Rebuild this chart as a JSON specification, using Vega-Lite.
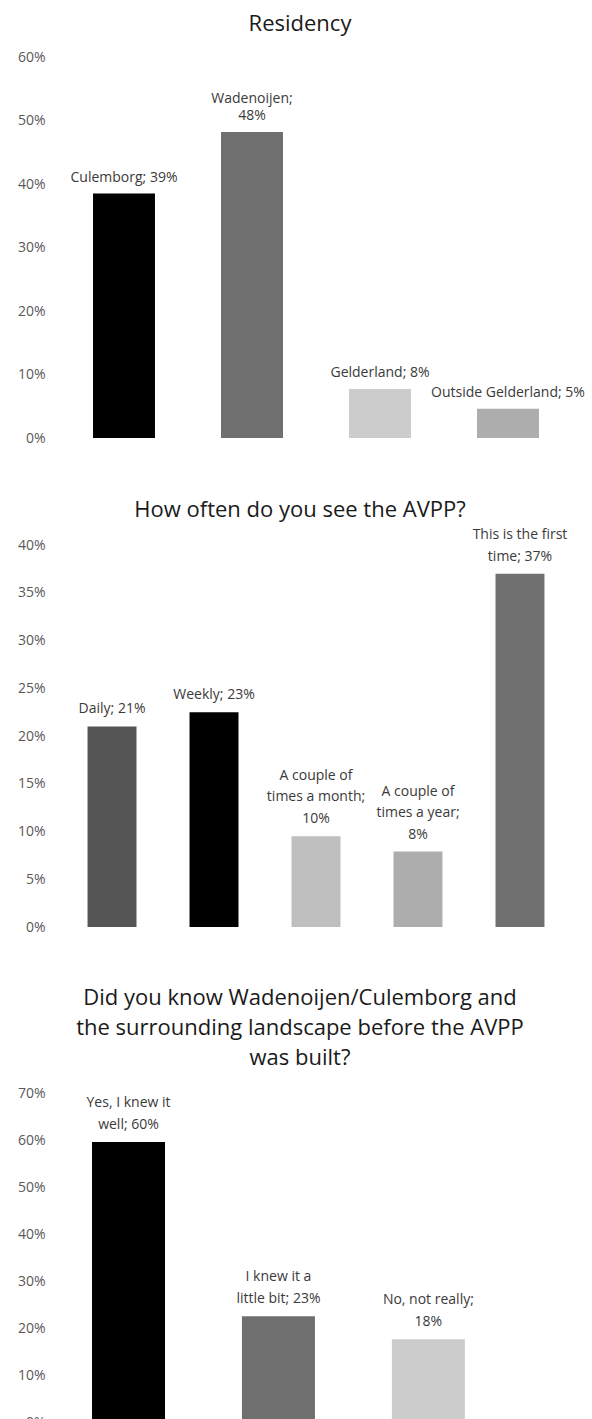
{
  "$schema": "https://vega.github.io/schema/vega-lite/v6.json",
  "background": "white",
  "padding": {"top": 13, "left": 0, "right": 0, "bottom": 0},
  "spacing": 53,
  "resolve": {"scale": {"color": "independent"}},
  "config": {
    "view": {"stroke": null},
    "font": "Open Sans",
    "axisY": {
      "domain": false, "ticks": false, "grid": false,
      "labelFont": "Open Sans", "labelFontSize": 14, "labelColor": "#595959",
      "labelPadding": 15, "minExtent": 60, "maxExtent": 60, "title": null, "format": ".0%"
    },
    "text": {"font": "Open Sans", "fontSize": 14, "color": "#3a3a3a", "baseline": "bottom"},
    "title": {"font": "Open Sans", "fontSize": 22, "fontWeight": "normal", "color": "#1a1a1a", "anchor": "middle", "frame": "group", "dx": -16, "lineHeight": 30}
  },
  "vconcat": [
    {
      "title": {"text": "Residency", "offset": 14},
      "width": 512, "height": 381,
      "data": {"values": [
        {"category": "Culemborg", "share": 0.385, "labelBottom": "Culemborg; 39%", "labelMiddle": ""},
        {"category": "Wadenoijen", "share": 0.482, "labelBottom": "48%", "labelMiddle": "Wadenoijen;"},
        {"category": "Gelderland", "share": 0.077, "labelBottom": "Gelderland; 8%", "labelMiddle": ""},
        {"category": "Outside Gelderland", "share": 0.046, "labelBottom": "Outside Gelderland; 5%", "labelMiddle": ""}
      ]},
      "encoding": {
        "x": {"field": "category", "type": "nominal", "sort": null, "axis": null,
              "scale": {"paddingInner": 0.516, "paddingOuter": 0.258, "align": 0.5}},
        "y": {"field": "share", "type": "quantitative", "scale": {"domain": [0, 0.6]},
              "axis": {"values": [0, 0.1, 0.2, 0.3, 0.4, 0.5, 0.6]}}
      },
      "layer": [
        {"mark": {"type": "bar"},
         "encoding": {"color": {"field": "category", "type": "nominal", "legend": null,
           "scale": {"domain": ["Culemborg", "Wadenoijen", "Gelderland", "Outside Gelderland"],
                     "range": ["#000000", "#6f6f6f", "#cccccc", "#adadad"]}}}},
        {"mark": {"type": "text", "dy": -9},
         "encoding": {"text": {"field": "labelBottom", "type": "nominal"}}},
        {"mark": {"type": "text", "dy": -26},
         "encoding": {"text": {"field": "labelMiddle", "type": "nominal"}}}
      ]
    },
    {
      "title": {"text": "How often do you see the AVPP?", "offset": -15},
      "width": 512, "height": 382,
      "data": {"values": [
        {"category": "Daily", "share": 0.21, "labelBottom": "Daily; 21%", "labelMiddle": "", "labelTop": ""},
        {"category": "Weekly", "share": 0.225, "labelBottom": "Weekly; 23%", "labelMiddle": "", "labelTop": ""},
        {"category": "A couple of times a month", "share": 0.095, "labelBottom": "10%", "labelMiddle": "times a month;", "labelTop": "A couple of"},
        {"category": "A couple of times a year", "share": 0.079, "labelBottom": "8%", "labelMiddle": "times a year;", "labelTop": "A couple of"},
        {"category": "This is the first time", "share": 0.37, "labelBottom": "time; 37%", "labelMiddle": "This is the first", "labelTop": ""}
      ]},
      "encoding": {
        "x": {"field": "category", "type": "nominal", "sort": null, "axis": null,
              "scale": {"paddingInner": 0.52, "paddingOuter": 0.27, "align": 0.5}},
        "y": {"field": "share", "type": "quantitative", "scale": {"domain": [0, 0.4]},
              "axis": {"values": [0, 0.05, 0.1, 0.15, 0.2, 0.25, 0.3, 0.35, 0.4]}}
      },
      "layer": [
        {"mark": {"type": "bar"},
         "encoding": {"color": {"field": "category", "type": "nominal", "legend": null,
           "scale": {"domain": ["Daily", "Weekly", "A couple of times a month", "A couple of times a year", "This is the first time"],
                     "range": ["#555555", "#000000", "#bfbfbf", "#adadad", "#707070"]}}}},
        {"mark": {"type": "text", "dy": -10},
         "encoding": {"text": {"field": "labelBottom", "type": "nominal"}}},
        {"mark": {"type": "text", "dy": -32},
         "encoding": {"text": {"field": "labelMiddle", "type": "nominal"}}},
        {"mark": {"type": "text", "dy": -53},
         "encoding": {"text": {"field": "labelTop", "type": "nominal"}}}
      ]
    },
    {
      "title": {"text": ["Did you know Wadenoijen/Culemborg and", "the surrounding landscape before the AVPP", "was built?"], "offset": 16},
      "width": 512, "height": 329,
      "data": {"values": [
        {"category": "Yes, I knew it well", "share": 0.596, "labelBottom": "well; 60%", "labelMiddle": "Yes, I knew it"},
        {"category": "I knew it a little bit", "share": 0.225, "labelBottom": "little bit; 23%", "labelMiddle": "I knew it a"},
        {"category": "No, not really", "share": 0.176, "labelBottom": "18%", "labelMiddle": "No, not really;"}
      ]},
      "encoding": {
        "x": {"field": "category", "type": "nominal", "sort": null, "axis": null,
              "scale": {"paddingInner": 0.513, "paddingOuter": 0.464, "align": 0.23}},
        "y": {"field": "share", "type": "quantitative", "scale": {"domain": [0, 0.7]},
              "axis": {"values": [0, 0.1, 0.2, 0.3, 0.4, 0.5, 0.6, 0.7]}}
      },
      "layer": [
        {"mark": {"type": "bar"},
         "encoding": {"color": {"field": "category", "type": "nominal", "legend": null,
           "scale": {"domain": ["Yes, I knew it well", "I knew it a little bit", "No, not really"],
                     "range": ["#000000", "#6f6f6f", "#cccccc"]}}}},
        {"mark": {"type": "text", "dy": -10},
         "encoding": {"text": {"field": "labelBottom", "type": "nominal"}}},
        {"mark": {"type": "text", "dy": -32},
         "encoding": {"text": {"field": "labelMiddle", "type": "nominal"}}}
      ]
    }
  ]
}
